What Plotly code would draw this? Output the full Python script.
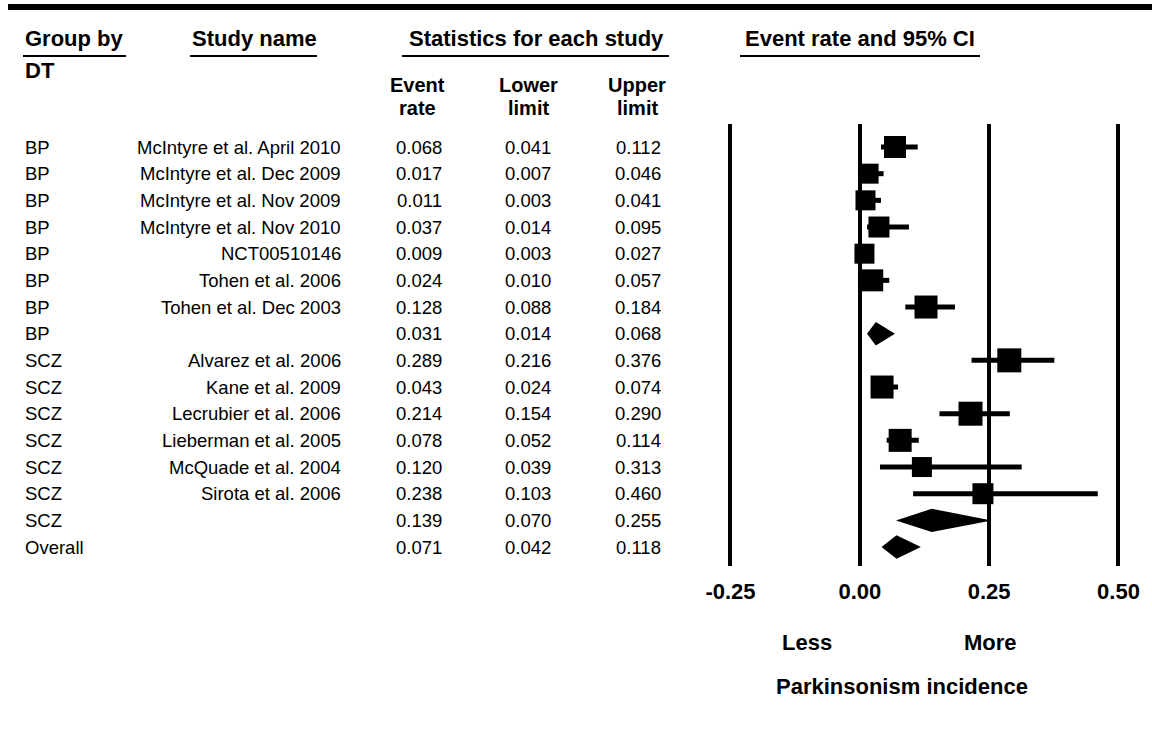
import plotly.graph_objects as go

# ---- data -------------------------------------------------------------
groups = ["BP", "BP", "BP", "BP", "BP", "BP", "BP", "BP",
          "SCZ", "SCZ", "SCZ", "SCZ", "SCZ", "SCZ", "SCZ", "Overall"]
studies = ["McIntyre et al. April 2010", "McIntyre et al. Dec 2009",
           "McIntyre et al. Nov 2009", "McIntyre et al. Nov 2010",
           "NCT00510146", "Tohen et al. 2006", "Tohen et al. Dec 2003", "",
           "Alvarez et al. 2006", "Kane et al. 2009", "Lecrubier et al. 2006",
           "Lieberman et al. 2005", "McQuade et al. 2004", "Sirota et al. 2006",
           "", ""]
event_rate = [0.068, 0.017, 0.011, 0.037, 0.009, 0.024, 0.128, 0.031,
              0.289, 0.043, 0.214, 0.078, 0.120, 0.238, 0.139, 0.071]
lower_limit = [0.041, 0.007, 0.003, 0.014, 0.003, 0.010, 0.088, 0.014,
               0.216, 0.024, 0.154, 0.052, 0.039, 0.103, 0.070, 0.042]
upper_limit = [0.112, 0.046, 0.041, 0.095, 0.027, 0.057, 0.184, 0.068,
               0.376, 0.074, 0.290, 0.114, 0.313, 0.460, 0.255, 0.118]
is_summary = [False] * 7 + [True] + [False] * 6 + [True, True]

tick_values = [-0.25, 0.0, 0.25, 0.50]
tick_labels = ["-0.25", "0.00", "0.25", "0.50"]

# ---- styling ----------------------------------------------------------
W, H = 1152, 731
FONT = "Liberation Sans, Arial, sans-serif"
REG = 18.5
BOLD = 22
SUB = 20  # two-line column captions
square_size = [22, 20, 20, 21, 20, 22, 23, None,
               24, 23, 24, 23, 20, 21, None, None]
DIAMOND_HALF = 0.44  # half height of pooled diamonds, in rows

ROW0_PX, ROW_PITCH = 147.0, 26.67
PLOT_TOP_PX, PLOT_BOT_PX = 124.0, 566.0
X0_PX, PX_PER_UNIT = 859.8, 517.3


def px(x):
    return x / W


def py(y):
    return 1 - y / H


rows = list(range(len(groups)))

fig = go.Figure()

# individual studies: squares with confidence whiskers
st = [i for i in rows if not is_summary[i]]
fig.add_trace(go.Scatter(
    x=[event_rate[i] for i in st],
    y=st,
    mode="markers",
    marker=dict(symbol="square", size=[square_size[i] for i in st],
                color="black", opacity=1, line=dict(width=0)),
    error_x=dict(type="data", symmetric=False,
                 array=[upper_limit[i] - event_rate[i] for i in st],
                 arrayminus=[event_rate[i] - lower_limit[i] for i in st],
                 thickness=5, width=0, color="black"),
    hoverinfo="skip", showlegend=False,
))

# pooled estimates: diamonds
for i in rows:
    if not is_summary[i]:
        continue
    fig.add_trace(go.Scatter(
        x=[lower_limit[i], event_rate[i], upper_limit[i], event_rate[i], lower_limit[i]],
        y=[i, i - DIAMOND_HALF, i, i + DIAMOND_HALF, i],
        mode="lines", fill="toself", fillcolor="black",
        line=dict(width=0, color="black"),
        hoverinfo="skip", showlegend=False,
    ))

ann = []


def text(x, y, s, size=REG, bold=False, xanchor="left", xref="paper", yref="paper"):
    ann.append(dict(x=x, y=y, xref=xref, yref=yref, text=s, showarrow=False,
                    xanchor=xanchor, yanchor="middle",
                    font=dict(family=FONT, size=size, color="black",
                              weight="bold" if bold else "normal")))


# column headers
text(px(23), py(39), "Group by", BOLD, True)
text(px(190), py(39), "Study name", BOLD, True)
text(px(536), py(39), "Statistics for each study", BOLD, True, "center")
text(px(743), py(39), "Event rate and 95% CI", BOLD, True)
text(px(23), py(71), "DT", BOLD, True)
for cx, top, bottom in [(417, "Event", "rate"), (528, "Lower", "limit"),
                        (637, "Upper", "limit")]:
    text(px(cx), py(85), top, SUB, True, "center")
    text(px(cx), py(108), bottom, SUB, True, "center")

# table body
for i in rows:
    text(px(23), i, groups[i], yref="y")
    if studies[i]:
        text(px(343), i, studies[i], xanchor="right", yref="y")
    text(px(419), i, f"{event_rate[i]:.3f}", xanchor="center", yref="y")
    text(px(528), i, f"{lower_limit[i]:.3f}", xanchor="center", yref="y")
    text(px(638), i, f"{upper_limit[i]:.3f}", xanchor="center", yref="y")

# axis footnotes
text(px(807), py(642), "Less", BOLD, True, "center")
text(px(990), py(642), "More", BOLD, True, "center")
text(px(902), py(686), "Parkinsonism incidence", BOLD, True, "center")

shapes = [
    # heavy rule across the top
    dict(type="rect", xref="paper", yref="paper", x0=px(8), x1=1,
         y0=py(10), y1=py(4), fillcolor="black", line=dict(width=0)),
]
for x0, x1 in [(23, 126), (190, 317), (402, 669), (740, 980)]:
    shapes.append(dict(type="line", xref="paper", yref="paper",
                       x0=px(x0), x1=px(x1), y0=py(56), y1=py(56),
                       line=dict(color="black", width=2)))

y_top = (PLOT_TOP_PX - ROW0_PX) / ROW_PITCH
y_bot = (PLOT_BOT_PX - ROW0_PX) / ROW_PITCH

fig.update_layout(
    width=W, height=H,
    margin=dict(l=0, r=0, t=0, b=0),
    paper_bgcolor="white", plot_bgcolor="white",
    annotations=ann, shapes=shapes,
    xaxis=dict(domain=[0, 1],
               range=[-X0_PX / PX_PER_UNIT, (W - X0_PX) / PX_PER_UNIT],
               tickvals=tick_values, ticktext=tick_labels,
               showgrid=True, gridcolor="black", gridwidth=4,
               zeroline=False, showline=False, ticks="",
               ticklabelstandoff=10,
               tickfont=dict(family=FONT, size=BOLD, color="black", weight="bold"),
               fixedrange=True),
    yaxis=dict(domain=[py(PLOT_BOT_PX), py(PLOT_TOP_PX)],
               range=[y_bot, y_top],
               showgrid=False, zeroline=False, showticklabels=False,
               fixedrange=True),
)

fig.write_html("out.html")
